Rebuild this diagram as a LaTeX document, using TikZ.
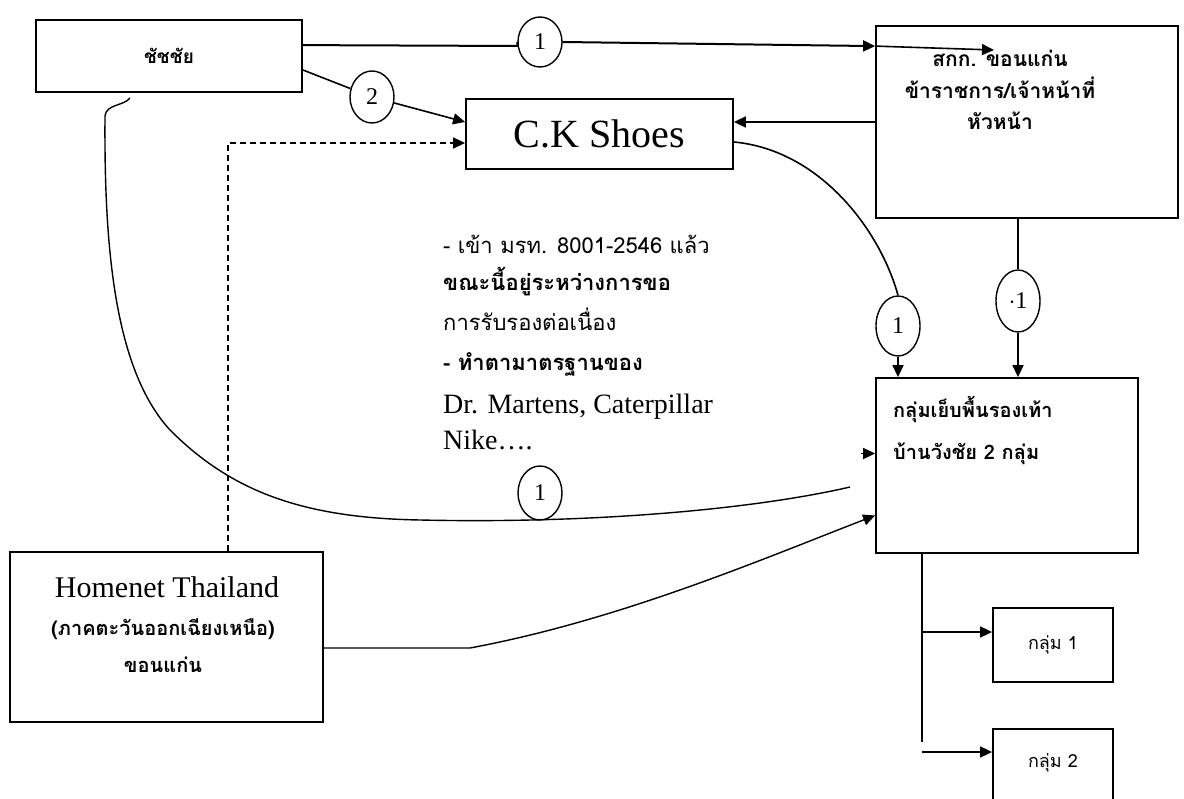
\documentclass[tikz,border=0pt]{standalone}
\usepackage{fontspec}
\setmainfont{Liberation Serif}
\newfontfamily\thai[Script=Thai]{Loma}
\usetikzlibrary{arrows.meta,shapes.geometric}
\begin{document}
\begin{tikzpicture}[x=1pt,y=-1pt,
  box/.style={draw, line width=1.8pt, inner sep=0pt},
  oval/.style={draw, ellipse, fill=white, line width=1.4pt, inner sep=0pt, font=\fontsize{24}{24}\selectfont},
  conn/.style={line width=1.6pt},
  arrow/.style={line width=1.6pt, -{Triangle[length=12pt,width=11pt]}},
  th/.style={font=\thai\fontsize{#1}{#1}\selectfont},
  thb/.style={font=\thai\bfseries\fontsize{#1}{#1}\selectfont}]
\useasboundingbox (0,0) rectangle (1184,799);
\fill[white] (0,0) rectangle (1184,799);

% boxes
\node[box, minimum width=266pt, minimum height=72pt] (chai) at (169,56) {};
\node[box, minimum width=267pt, minimum height=70pt] (ck) at (599.5,134) {};
\node[box, minimum width=302pt, minimum height=192pt] (sk) at (1027,122) {};
\node[box, minimum width=262pt, minimum height=175pt] (grp) at (1007,465.5) {};
\node[box, minimum width=313pt, minimum height=170pt] (home) at (166.5,637) {};
\node[box, minimum width=120pt, minimum height=74pt] (g1) at (1053,645) {};
\node[box, minimum width=120pt, minimum height=80pt] (g2) at (1053,769) {};

% texts
\node[thb=19] (chaiT) at (169,56) {ชัชชัย};
\node[font=\fontsize{40}{40}\selectfont] (ckT) at (599.5,134) {C.K Shoes};
\node[thb=21, align=center, inner sep=0pt] (skT) at (1000,90) {สกก. ขอนแก่น\\[10pt]ข้าราชการ/เจ้าหน้าที่\\[10pt]หัวหน้า};
\node[thb=20, anchor=base west, inner sep=0pt] (grpT1) at (893,418) {กลุ่มเย็บพื้นรองเท้า};
\node[thb=20, anchor=base west, inner sep=0pt] (grpT2) at (893,460) {บ้านวังชัย 2 กลุ่ม};
\node[font=\fontsize{30}{30}\selectfont, anchor=base, inner sep=0pt] (homeT1) at (167,597) {Homenet Thailand};
\node[thb=20, anchor=base, inner sep=0pt] (homeT2) at (163,635) {(ภาคตะวันออกเฉียงเหนือ)};
\node[thb=20, anchor=base, inner sep=0pt] (homeT3) at (163,672) {ขอนแก่น};
\node[th=18, inner sep=0pt] (g1T) at (1053,645) {กลุ่ม 1};
\node[th=18, inner sep=0pt] (g2T) at (1053,763) {กลุ่ม 2};

\node[th=22, anchor=base west, inner sep=0pt] (m1) at (443,254) {- เข้า มรท. 8001-2546 แล้ว};
\node[thb=22, anchor=base west, inner sep=0pt] (m2) at (443,291) {ขณะนี้อยู่ระหว่างการขอ};
\node[th=22, anchor=base west, inner sep=0pt] (m3) at (443,331) {การรับรองต่อเนื่อง};
\node[thb=22, anchor=base west, inner sep=0pt] (m4) at (443,371) {- ทำตามาตรฐานของ};
\node[font=\fontsize{28}{28}\selectfont, anchor=base west, inner sep=0pt] (m5) at (443,414) {Dr. Martens, Caterpillar};
\node[font=\fontsize{28}{28}\selectfont, anchor=base west, inner sep=0pt] (m6) at (443,450) {Nike….};

% ovals
\node[oval, minimum width=44pt, minimum height=50pt] (e1) at (540,42) {1};
\node[oval, minimum width=44pt, minimum height=52pt] (e2) at (372,97) {2};
\node[oval, minimum width=44pt, minimum height=60pt] (e3) at (898,326) {1};
\node[oval, minimum width=44pt, minimum height=62pt] (e4) at (1018,301) {$\cdot$1};
\node[oval, minimum width=44pt, minimum height=54pt] (e5) at (540,493) {1};

% top connectors
\draw[conn, line width=2pt] ([yshift=-26pt]chai.north east) -- (e1.west |- 0,46) -- (e1.west);
\draw[arrow, line width=2pt] (e1.east) -- ([yshift=-21pt]sk.north west);
\coordinate (skin) at (994,50);
\draw[arrow] ([yshift=-21pt]sk.north west) -- (skin);
\draw[conn] ([yshift=-14pt]chai.east) -- (e2);
\draw[arrow] (e2) -- ([yshift=12pt]ck.west);
\draw[arrow] (sk.west) -- ([yshift=12pt]ck.east);
\draw[arrow, dashed, dash pattern=on 6pt off 4pt] ([xshift=61.5pt]home.north) |- ([yshift=-9pt]ck.west);

% to group
\draw[conn] ([yshift=-8pt]ck.east) .. controls (820,150) and (880,230) .. (e3.north);
\draw[arrow] (e3.south) -- (e3.south |- grp.north);
\draw[conn] (sk.south -| e4.north) -- (e4.north);
\draw[arrow] (e4.south) -- (e4.south |- grp.north);

% big curve from chai
\coordinate (hk) at (130,98);
\coordinate (hkend) at (850,487);
\draw[conn, line width=1.4pt] (hk) .. controls (124,106) and (106,104) .. (105,116)
  .. controls (104,250) and (115,370) .. (170,430)
  .. controls (230,490) and (300,518) .. (420,520)
  .. controls (600,524) and (760,508) .. (hkend);
\draw[arrow] ([xshift=-14pt,yshift=12pt]grp.west) -- ([yshift=12pt]grp.west);

% homenet curve
\coordinate (hmid) at (470,648);
\draw[arrow, line width=1.4pt] ([yshift=-11pt]home.east) -- (hmid) .. controls (620,620) and (760,560) .. ([yshift=-50pt]grp.west);

% bottom branches
\coordinate (gvb) at (922,742);
\draw[conn] (gvb |- grp.south) -- (gvb);
\coordinate (b1) at (922,632);
\coordinate (b2) at (922,752);
\draw[arrow] (b1) -- (b1 -| g1.west);
\draw[arrow] (b2) -- (b2 -| g2.west);
\end{tikzpicture}
\end{document}
